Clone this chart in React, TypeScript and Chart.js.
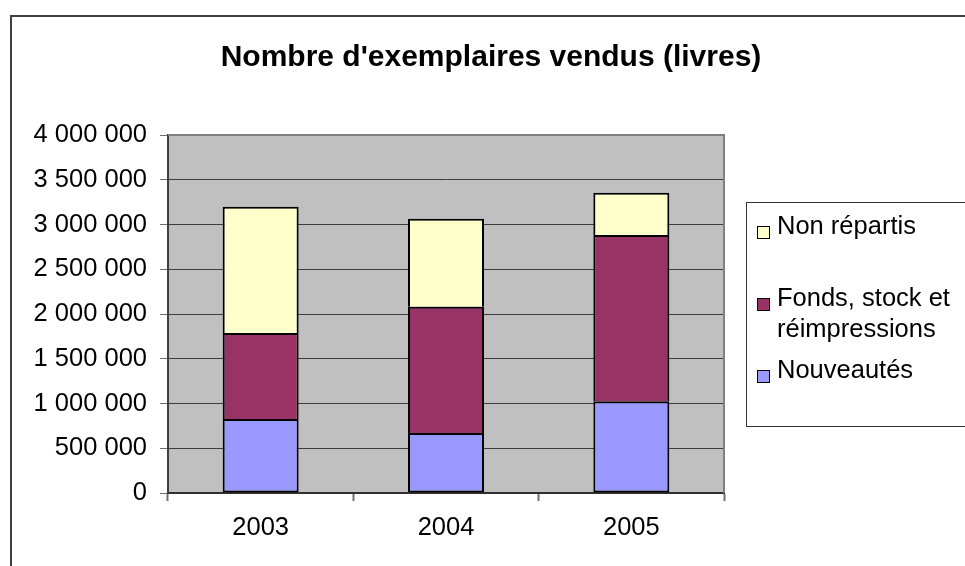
import React, { useEffect, useRef } from 'react';
import { Chart, registerables } from 'chart.js';

Chart.register(...registerables);

// ---- data ----
const categories = ['2003', '2004', '2005'];
const seriesLabels = ['Nouveautés', 'Fonds, stock et réimpressions', 'Non répartis'];
const nouveautes = [828000, 671000, 1025000];
const fonds = [961000, 1409000, 1857000];
const nonRepartis = [1409000, 984000, 473000];
const seriesColors = ['#9999FF', '#993366', '#FFFFCC'];
const yMin = 0;
const yMax = 4000000;
const yStep = 500000;
const chartTitle = "Nombre d'exemplaires vendus (livres)";

const FONT = '"Liberation Sans", Arial, sans-serif';

const formatThousands = (v: number) =>
  String(Math.round(v)).replace(/\B(?=(\d{3})+(?!\d))/g, ' ');

function wrapText(ctx: CanvasRenderingContext2D, text: string, maxWidth: number): string[] {
  const words = text.split(' ');
  const lines: string[] = [];
  let cur = '';
  for (const w of words) {
    const test = cur ? cur + ' ' + w : w;
    if (ctx.measureText(test).width > maxWidth && cur) {
      lines.push(cur);
      cur = w;
    } else {
      cur = test;
    }
  }
  if (cur) lines.push(cur);
  return lines;
}

const excelPlugin = {
  id: 'excelDecor',
  beforeDraw(chart: any) {
    const { ctx, chartArea } = chart;
    ctx.save();
    ctx.fillStyle = '#ffffff';
    ctx.fillRect(0, 0, chart.width, chart.height);
    ctx.fillStyle = '#C0C0C0';
    ctx.fillRect(chartArea.left, chartArea.top, chartArea.right - chartArea.left, chartArea.bottom - chartArea.top);
    ctx.restore();
  },
  afterDraw(chart: any) {
    const { ctx, chartArea } = chart;
    ctx.save();
    // outer chart border
    ctx.fillStyle = '#404040';
    ctx.fillRect(10, 15, chart.width - 10, 2);
    ctx.fillRect(10, 15, 2, chart.height - 15);
    // plot area top/right border
    ctx.fillStyle = '#808080';
    ctx.fillRect(chartArea.left, chartArea.top - 1, chartArea.right - chartArea.left, 2);
    ctx.fillRect(chartArea.right - 1, chartArea.top - 1, 2, chartArea.bottom - chartArea.top + 1);

    // title
    ctx.fillStyle = '#000';
    ctx.font = 'bold 30px ' + FONT;
    ctx.textAlign = 'center';
    ctx.textBaseline = 'alphabetic';
    ctx.fillText(chartTitle, 491, 66);

    // legend
    ctx.strokeStyle = '#333';
    ctx.lineWidth = 1;
    ctx.strokeRect(746.5, 202.5, 400, 224);
    ctx.font = '25.5px ' + FONT;
    ctx.textAlign = 'left';
    const baselines = [234, 306, 378];
    const lineH = 31;
    const datasets = chart.data.datasets;
    const order = datasets.map((_: any, i: number) => i).reverse();
    order.forEach((di: number, row: number) => {
      const ds = datasets[di];
      const base = baselines[row];
      ctx.fillStyle = ds.backgroundColor;
      ctx.fillRect(757, base - 8, 13, 13);
      ctx.strokeStyle = '#000';
      ctx.lineWidth = 1;
      ctx.strokeRect(757.5, base - 7.5, 12, 12);
      ctx.fillStyle = '#000';
      const lines = wrapText(ctx, ds.label, 195);
      lines.forEach((ln, k) => ctx.fillText(ln, 777, base + k * lineH));
    });
    ctx.restore();
  },
};

export default function App() {
  const ref = useRef<HTMLCanvasElement>(null);

  useEffect(() => {
    if (!ref.current) return;
    const values = [nouveautes, fonds, nonRepartis];
    const chart = new Chart(ref.current, {
      type: 'bar',
      data: {
        labels: categories,
        datasets: seriesLabels.map((label, i) => ({
          label,
          data: values[i],
          backgroundColor: seriesColors[i],
          borderColor: '#000000',
          borderWidth: 2,
          borderSkipped: i === 0 ? false : 'start',
          barPercentage: 0.41,
          categoryPercentage: 1.0,
        })),
      },
      options: {
        responsive: false,
        animation: false,
        devicePixelRatio: 1,
        layout: { padding: { left: 0, top: 135, right: 241, bottom: 0 } },
        plugins: {
          legend: { display: false },
          title: { display: false },
          tooltip: { enabled: false },
        },
        scales: {
          x: {
            stacked: true,
            offset: true,
            afterFit: (scale: any) => {
              scale.height = 73;
            },
            grid: {
              display: true,
              offset: true,
              drawOnChartArea: false,
              drawTicks: true,
              tickLength: 8,
              tickColor: '#707070',
              tickWidth: 2,
            },
            border: { display: true, color: '#303030', width: 2 },
            ticks: {
              color: '#000',
              font: { family: FONT, size: 25.5 },
              padding: 12,
              maxRotation: 0,
            },
          },
          y: {
            stacked: true,
            min: yMin,
            max: yMax,
            afterFit: (scale: any) => {
              scale.width = 168;
            },
            grid: {
              color: '#3c3c3c',
              lineWidth: 1,
              drawTicks: true,
              tickLength: 8,
              tickColor: '#707070',
              tickWidth: 1,
            },
            border: { display: true, color: '#404040', width: 2 },
            ticks: {
              stepSize: yStep,
              color: '#000',
              font: { family: FONT, size: 25.5 },
              padding: 13,
              callback: (v: any) => formatThousands(Number(v)),
            },
          },
        },
      },
      plugins: [excelPlugin],
    });
    return () => chart.destroy();
  }, []);

  return (
    <div style={{ position: 'fixed', left: 0, top: 0, width: 965, height: 566, background: '#fff' }}>
      <canvas ref={ref} width={965} height={566} style={{ display: 'block', width: 965, height: 566 }} />
    </div>
  );
}
